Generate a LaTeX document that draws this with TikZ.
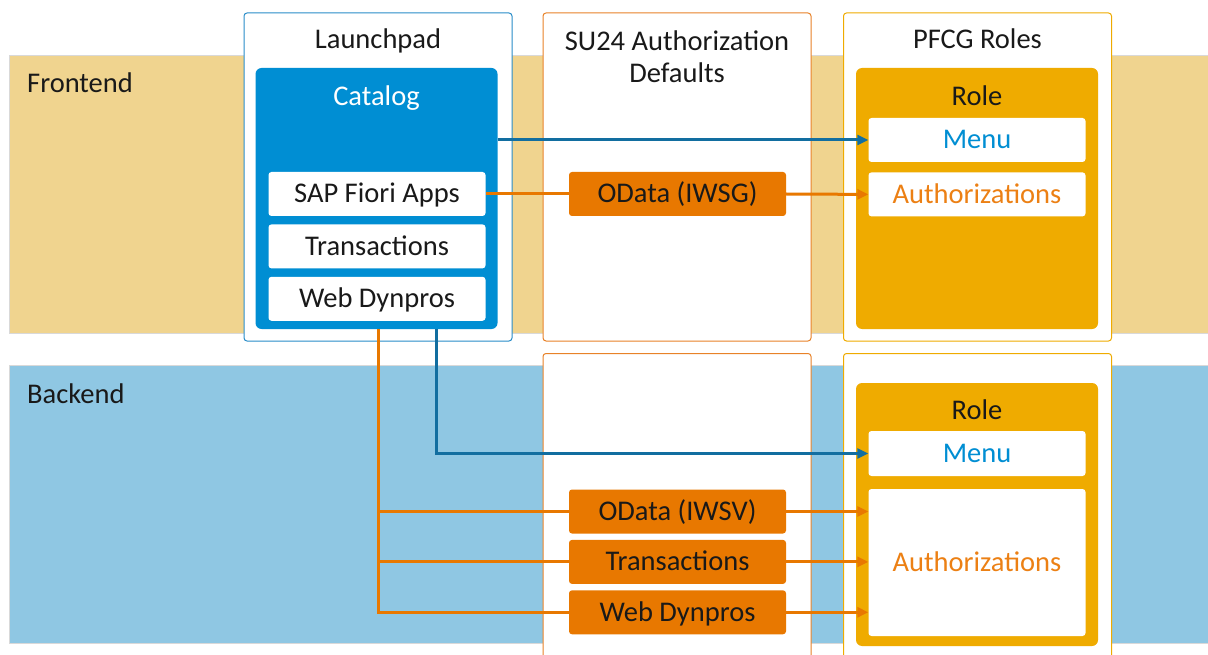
\documentclass[tikz,border=0pt]{standalone}
\usepackage{fontspec}
\setmainfont{Carlito}
\usetikzlibrary{arrows.meta,positioning}

\definecolor{frontBand}{RGB}{240,212,143}
\definecolor{backBand}{RGB}{143,199,227}
\definecolor{catBlue}{RGB}{0,142,211}
\definecolor{arBlue}{RGB}{18,110,160}
\definecolor{sapOrange}{RGB}{232,120,0}
\definecolor{authOrange}{RGB}{236,128,20}
\definecolor{pfcgGold}{RGB}{239,171,0}
\definecolor{lpBlue}{RGB}{40,140,200}
\definecolor{suOrange}{RGB}{232,130,40}

\begin{document}
\begin{tikzpicture}[x=1pt,y=-1pt,
    font=\fontsize{28.5}{32}\selectfont,
    >={Triangle[length=11pt,width=10pt]},
    band/.style={draw=black!15,line width=.8pt,minimum width=1199pt,minimum height=278pt,anchor=north west,inner sep=0pt},
    colbox/.style={draw=#1,fill=white,line width=1pt,rounded corners=3pt,minimum width=268pt,inner sep=0pt},
    groupbox/.style={fill=#1,rounded corners=6pt,minimum width=242pt,inner sep=0pt},
    heading/.style={inner sep=0pt,text height=18pt,text depth=0pt,text=black!90},
    itembox/.style={fill=white,rounded corners=3pt,minimum width=217pt,minimum height=44pt,inner sep=0pt,text height=18pt,text depth=0pt,text=black!90},
    odata/.style={itembox,fill=sapOrange},
    link/.style={line width=3pt},
  ]
  \useasboundingbox (0,0) rectangle (1208,655);

  % frontend / backend bands
  \node[band,fill=frontBand] (front) at (9,55) {};
  \node[band,fill=backBand] (back) at (9,365) {};
  \node[heading,anchor=west] (frontlbl) at (27,84) {Frontend};
  \node[heading,anchor=west] (backlbl) at (27,394) {Backend};

  % launchpad
  \node[colbox=lpBlue,minimum height=328pt] (launchpad) at (378,177) {};
  \node[heading] (lptitle) at ([yshift=-27pt]launchpad.north) {Launchpad};
  \node[groupbox=catBlue,minimum height=261pt] (catalog) at (376.5,198.5) {};
  \node[heading,text=white] (cattitle) at ([yshift=-29pt]catalog.north) {Catalog};
  \node[itembox] (fiori) at (377,194) {SAP Fiori Apps};
  \node[itembox,below=8pt of fiori] (trans) {Transactions};
  \node[itembox,below=8pt of trans] (webdyn) {Web Dynpros};

  % su24
  \node[colbox=suOrange,minimum height=328pt] (sutop) at (677,177) {};
  \node[align=center,inner sep=0pt,text=black!90] (sutitle) at ([yshift=-44pt]sutop.north) {SU24 Authorization\\Defaults};
  \node[colbox=suOrange,minimum height=320pt,anchor=north] (subot) at (677,353) {};

  % pfcg
  \node[colbox=pfcgGold,minimum height=328pt] (pfcgtop) at (977.5,177) {};
  \node[heading] (pfcgtitle) at ([yshift=-27pt]pfcgtop.north) {PFCG Roles};
  \node[groupbox=pfcgGold,minimum height=261pt] (roletop) at (977,198.5) {};
  \node[heading] (roletitle) at ([yshift=-29pt]roletop.north) {Role};
  \node[itembox,text=catBlue] (menutop) at (977,140) {Menu};
  \node[itembox,text=authOrange,below=10pt of menutop] (authtop) {Authorizations};

  \node[colbox=pfcgGold,minimum height=320pt,anchor=north] (pfcgbot) at (977.5,353) {};
  \node[groupbox=pfcgGold,minimum height=263pt] (rolebot) at (977,514.5) {};
  \node[heading] (roletitle2) at ([yshift=-28pt]rolebot.north) {Role};
  \node[itembox,text=catBlue,minimum height=45pt] (menubot) at (977,453.5) {Menu};
  \node[itembox,text=authOrange,minimum height=147pt] (authbot) at (977,562.5) {Authorizations};

  % odata / transactions
  \node[odata] (iwsg) at (677.5,194) {OData (IWSG)};
  \node[odata] (iwsv) at (677.5,511.5) {OData (IWSV)};
  \node[odata,below=6pt of iwsv] (trans2) {Transactions};
  \node[odata,below=6pt of trans2] (webdyn2) {Web Dynpros};

  % connectors
  \draw[link,arBlue,->] (catalog.east |- menutop) -- (menutop.west);
  \draw[link,sapOrange] (fiori.east) -- (iwsg.west);
  \draw[link,sapOrange,->] (iwsg.east) -- (authtop.west);

  \coordinate (bluedrop) at ([xshift=59.5pt]catalog.south);
  \draw[link,arBlue,->] (bluedrop) |- (menubot.west);

  \coordinate (orangedrop) at ([xshift=1.5pt]catalog.south);
  \draw[link,sapOrange] (orangedrop) |- (webdyn2.west);
  \foreach \src in {iwsv,trans2}
    \draw[link,sapOrange] (orangedrop |- \src.west) -- (\src.west);
  \foreach \src in {iwsv,trans2,webdyn2}
    \draw[link,sapOrange,->] (\src.east) -- (authbot.west |- \src.east);
\end{tikzpicture}
\end{document}
